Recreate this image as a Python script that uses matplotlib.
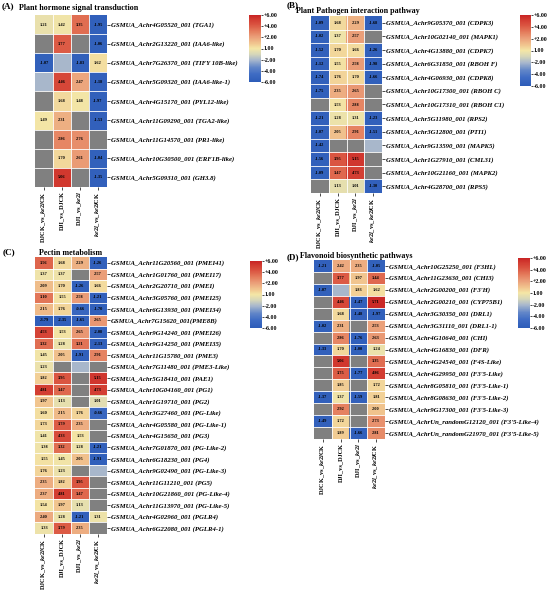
import numpy as np
import matplotlib
matplotlib.use("Agg")
import matplotlib.pyplot as plt
from matplotlib.colors import LinearSegmentedColormap, Normalize
from matplotlib.cm import ScalarMappable

plt.rcParams['font.family'] = ['Liberation Serif', 'DejaVu Serif']
plt.rcParams['mathtext.fontset'] = 'custom'
plt.rcParams['mathtext.rm'] = 'Liberation Serif:bold'
plt.rcParams['mathtext.it'] = 'Liberation Serif:italic:bold'
plt.rcParams['mathtext.bf'] = 'Liberation Serif:bold'

nan = np.nan

# columns (comparisons)
columns = ['DJCK_vs_$\\mathit{ke2l}$CK', 'DJI_vs_DJCK',
           'DJI_vs_$\\mathit{ke2l}$', '$\\mathit{ke2l}$_vs_$\\mathit{ke2l}$CK']

# (A) plant hormone signal transduction
genes_a = ['GSMUA_Achr4G05520_001 (TGA1)', 'GSMUA_Achr2G13220_001 (IAA6-like)',
           'GSMUA_Achr7G26370_001 (TIFY 10B-like)', 'GSMUA_Achr5G09320_001 (IAA6-like-1)',
           'GSMUA_Achr4G15170_001 (PYL12-like)', 'GSMUA_Achr11G09290_001 (TGA2-like)',
           'GSMUA_Achr11G14570_001 (PR1-like)', 'GSMUA_Achr10G30500_001 (ERF1B-like)',
           'GSMUA_Achr5G09310_001 (GH3.8)']
vals_a = [[1.21, 1.42, 3.35, -1.95],
          [nan, 3.77, nan, -1.06],
          [-1.07, 0.0, -1.83, 1.62],
          [0.0, 4.46, 2.47, -1.18],
          [nan, 1.68, 1.48, -1.97],
          [1.49, 2.31, nan, -1.53],
          [nan, 2.86, 2.76, nan],
          [nan, 1.70, 2.61, -1.04],
          [nan, 5.06, nan, -1.35]]

# (B) plant pathogen interaction
genes_b = ['GSMUA_Achr9G05370_001 (CDPK3)', 'GSMUA_Achr10G02140_001 (MAPK1)',
           'GSMUA_Achr4G13880_001 (CDPK7)', 'GSMUA_Achr6G31850_001 (RBOH F)',
           'GSMUA_Achr4G06930_001 (CDPK8)', 'GSMUA_Achr10G17300_001 (RBOH C)',
           'GSMUA_Achr10G17310_001 (RBOH C1)', 'GSMUA_Achr5G11980_001 (RPS2)',
           'GSMUA_Achr3G12800_001 (PTI1)', 'GSMUA_Achr9G13590_001 (MAPK5)',
           'GSMUA_Achr1G27910_001 (CML31)', 'GSMUA_Achr10G21160_001 (MAPK2)',
           'GSMUA_Achr4G28700_001 (RPS5)']
vals_b = [[-1.09, 1.68, 2.29, -1.68],
          [-1.02, 1.37, 2.57, nan],
          [-1.52, 1.70, 1.66, -1.26],
          [-1.12, 1.55, 2.58, -1.98],
          [-1.74, 1.76, 1.70, -1.66],
          [-1.75, 2.35, 2.65, nan],
          [nan, 1.53, 2.88, nan],
          [-1.21, 1.28, 1.31, -1.23],
          [-1.07, 2.05, 2.91, -1.51],
          [-1.42, nan, nan, 0.0],
          [-1.56, 3.95, 5.15, nan],
          [-1.09, 3.47, 4.73, nan],
          [nan, 1.13, 1.01, -1.30]]

# (C) pectin metabolism
genes_c = ['GSMUA_Achr11G20560_001 (PMEI41)', 'GSMUA_Achr1G01760_001 (PMEI17)',
           'GSMUA_Achr2G20710_001 (PMEI)', 'GSMUA_Achr3G05760_001 (PMEI25)',
           'GSMUA_Achr6G13930_001 (PMEI34)', 'GSMUA_Achr7G15620_001(PME8B)',
           'GSMUA_Achr9G14240_001 (PMEI26)', 'GSMUA_Achr9G14250_001 (PMEI35)',
           'GSMUA_Achr11G15780_001 (PME3)', 'GSMUA_Achr7G11480_001 (PME3-Like)',
           'GSMUA_Achr5G18410_001 (PAE1)', 'GSMUA_Achr10G04160_001 (PG1)',
           'GSMUA_Achr1G19710_001 (PG2)', 'GSMUA_Achr3G27460_001 (PG-Like)',
           'GSMUA_Achr4G05580_001 (PG-Like-1)', 'GSMUA_Achr4G15650_001 (PG3)',
           'GSMUA_Achr7G01870_001 (PG-Like-2)', 'GSMUA_Achr6G18230_001 (PG4)',
           'GSMUA_Achr9G02490_001 (PG-Like-3)', 'GSMUA_Achr11G11210_001 (PG5)',
           'GSMUA_Achr10G21860_001 (PG-Like-4)', 'GSMUA_Achr11G13970_001 (PG-Like-5)',
           'GSMUA_Achr4G02960_001 (PGLR4)', 'GSMUA_Achr6G22080_001 (PGLR4-1)']
vals_c = [[3.56, 1.68, 2.29, -1.26],
          [1.37, 1.37, nan, 2.57],
          [2.09, 1.70, -1.26, 1.66],
          [3.10, 1.55, 2.58, -1.21],
          [2.15, 1.76, -0.66, -1.70],
          [-3.79, -2.35, -1.65, 2.65],
          [4.53, 1.53, 2.65, -2.08],
          [3.32, 1.28, 3.21, -2.13],
          [1.45, 2.05, -1.91, 2.91],
          [1.23, nan, 0.0, nan],
          [1.82, 3.95, nan, 5.15],
          [4.81, 3.47, nan, 4.73],
          [1.97, 1.13, nan, 1.01],
          [1.60, 2.15, 1.76, -0.66],
          [1.73, 3.79, 2.35, nan],
          [1.41, 4.33, 1.53, nan],
          [1.38, 3.32, 1.28, -1.21],
          [1.55, 1.45, 2.05, -1.91],
          [1.76, 1.23, nan, 0.0],
          [2.35, 1.82, 3.95, nan],
          [2.37, 4.81, 3.47, nan],
          [1.54, 1.97, 1.13, nan],
          [2.40, 1.28, -1.21, 1.31],
          [1.33, 3.79, 2.35, nan]]

# (D) flavonoid biosynthesis
genes_d = ['GSMUA_Achr10G25250_001 (F3HL)', 'GSMUA_Achr11G23630_001 (CHI3)',
           "GSMUA_Achr2G00200_001 (F3'H)", 'GSMUA_Achr2G00210_001 (CYP75B1)',
           'GSMUA_Achr3G30350_001 (DRL1)', 'GSMUA_Achr3G31110_001 (DRL1-1)',
           'GSMUA_Achr4G10640_001 (CHI)', 'GSMUA_Achr4G16830_001 (DFR)',
           'GSMUA_Achr4G24540_001 (F4S-Like)', "GSMUA_Achr4G29950_001 (F3'5-Like)",
           "GSMUA_Achr8G05810_001 (F3'5-Like-1)", "GSMUA_Achr8G08630_001 (F3'5-Like-2)",
           "GSMUA_Achr9G17300_001 (F3'5-Like-3)", "GSMUA_AchrUn_randomG12120_001 (F3'5-Like-4)",
           "GSMUA_AchrUn_randomG21970_001 (F3'5-Like-5)"]
vals_d = [[-1.21, 2.42, 2.35, -1.05],
          [nan, 3.77, 1.97, 3.44],
          [-1.07, 0.0, 1.83, 1.62],
          [nan, 4.46, -1.47, 5.71],
          [nan, 1.68, -1.48, -1.97],
          [-1.02, 2.31, nan, 2.53],
          [nan, 2.86, -1.76, 2.63],
          [-1.33, 1.70, -1.00, 1.24],
          [nan, 5.06, nan, 3.35],
          [nan, 3.75, -1.77, 4.86],
          [nan, 1.85, nan, 1.72],
          [-1.37, 1.37, -1.59, 1.81],
          [nan, 2.92, nan, 2.00],
          [-1.49, 1.72, nan, 2.73],
          [nan, 1.89, -1.66, 2.81]]

cbar_labels = ['-6.00', '-4.00', '-2.00', '1.00', '+2.00', '+4.00', '+6.00']

cmap = LinearSegmentedColormap.from_list('fc', [
    (0.00, '#2d5cb8'), (0.12, '#3f6cc4'), (0.22, '#6286c8'), (0.33, '#a9b8cc'),
    (0.42, '#d8d8b8'), (0.50, '#f4e6a6'), (0.58, '#f1c48e'), (0.67, '#eba07a'),
    (0.76, '#e47c5c'), (0.86, '#da5340'), (0.94, '#d23a30'), (1.00, '#c82424')])
cmap.set_bad('#808080')
knot_v = [-6, -1, -0.5, 0, 1.0, 1.5, 2.0, 2.5, 3.0, 4.0, 5.0, 6.0]
knot_p = [0, 0.04, 0.1, 0.33, 0.45, 0.5, 0.58, 0.66, 0.76, 0.86, 0.94, 1.0]

W, H = 550, 593
fig = plt.figure(figsize=(W / 100, H / 100), dpi=100)


def rect(x0, y0, x1, y1):
    return [x0 / W, 1 - y1 / H, (x1 - x0) / W, (y1 - y0) / H]


def heatmap(box, cbox, genes, vals):
    ax = fig.add_axes(rect(*box))
    v = np.array(vals, dtype=float)
    pos = np.interp(v, knot_v, knot_p)
    ax.imshow(cmap(pos), aspect='auto', interpolation='nearest')
    for k in range(1, v.shape[0]):
        ax.axhline(k - 0.5, color='white', lw=0.6)
    for k in range(1, v.shape[1]):
        ax.axvline(k - 0.5, color='white', lw=0.6)
    for i in range(v.shape[0]):
        for j in range(v.shape[1]):
            if not np.isnan(v[i, j]) and v[i, j] != 0:
                ax.text(j, i, '%.2f' % v[i, j], ha='center', va='center',
                        fontsize=3.2, fontweight='bold', color='black')
    ax.yaxis.tick_right()
    ax.set_yticks(range(len(genes)))
    ax.set_yticklabels(genes, fontsize=4.9, fontweight='bold', fontstyle='italic')
    ax.set_xticks(range(len(columns)))
    ax.set_xticklabels(columns, rotation=90, fontsize=4.6, fontweight='bold')
    ax.tick_params(length=2, width=0.5, pad=1)
    for s in ax.spines.values():
        s.set_visible(False)

    cax = fig.add_axes(rect(*cbox))
    cb = fig.colorbar(ScalarMappable(norm=Normalize(0, 1), cmap=cmap), cax=cax,
                      ticks=np.linspace(0, 1, 7))
    cb.set_ticklabels(cbar_labels)
    cb.outline.set_visible(False)
    cax.tick_params(length=1.5, width=0.5, pad=0.5, labelsize=4.2)
    for t in cax.get_yticklabels():
        t.set_fontweight('bold')
    return ax


heatmap((35, 15, 107, 187), (249, 15, 261, 82), genes_a, vals_a)
heatmap((311, 16, 382, 193), (520, 15, 531, 86), genes_b, vals_b)
heatmap((35, 257, 107, 534), (250, 261, 262, 328), genes_c, vals_c)
heatmap((314, 260, 385, 439), (518, 258, 530, 328), genes_d, vals_d)

def label(x, y, s, size=5.8, ha='left'):
    fig.text(x / W, 1 - y / H, s, fontsize=size, fontweight='bold', ha=ha, va='center')

label(2, 6, '(A)', 6.5)
label(19, 8, 'Plant hormone signal transduction')
label(287, 5, '(B)', 6.5)
label(296, 11, 'Plant Pathogen interaction pathway')
label(3, 252, '(C)', 6.5)
label(71, 253, 'Pectin metabolism', ha='center')
label(287, 257, '(D)', 6.5)
label(300, 256, 'Flavonoid biosynthetic pathways')

fig.savefig('out.png', dpi=100)
